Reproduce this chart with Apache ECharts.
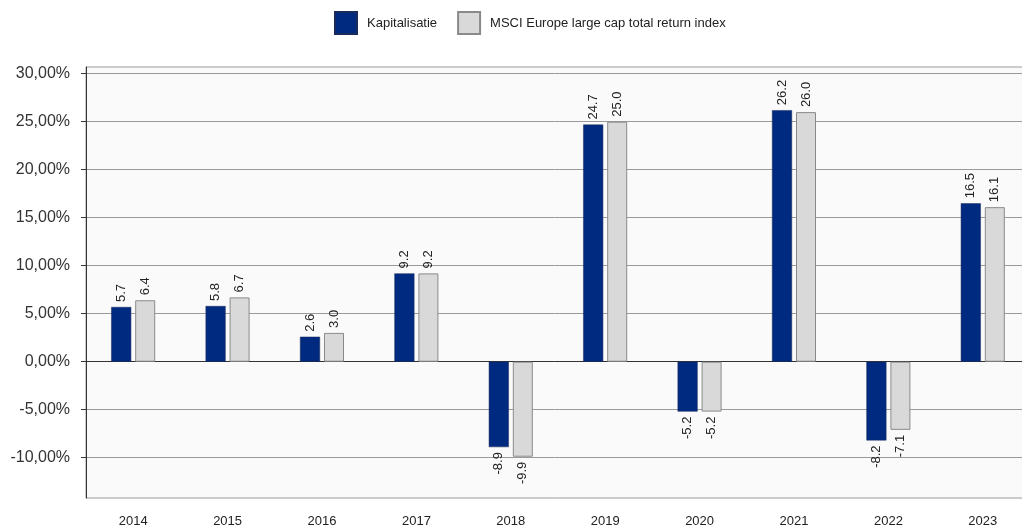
<!DOCTYPE html>
<html>
<head>
<meta charset="utf-8">
<script src="https://cdn.jsdelivr.net/npm/echarts@6/dist/echarts.min.js"></script>
<style>
  html, body { margin: 0; padding: 0; background: #ffffff; }
  #chart { width: 1022px; height: 528px; }
</style>
</head>
<body>
<div id="chart"></div>
<script>
// Annual returns (%) per year
const years = ['2014', '2015', '2016', '2017', '2018', '2019', '2020', '2021', '2022', '2023'];
const kapitalisatie = [5.7, 5.8, 2.6, 9.2, -8.9, 24.7, -5.2, 26.2, -8.2, 16.5];
const msciEurope = [6.4, 6.7, 3.0, 9.2, -9.9, 25.0, -5.2, 26.0, -7.1, 16.1];
const yTicks = [-10, -5, 0, 5, 10, 15, 20, 25, 30];

const FONT = '"Liberation Sans", Arial, sans-serif';

// Rotated value labels: above positive bars, below negative ones
function withLabels(values) {
  return values.map(v => ({
    value: v,
    label: v >= 0
      ? { position: 'top', align: 'left', verticalAlign: 'middle' }
      : { position: 'bottom', align: 'right', verticalAlign: 'middle' }
  }));
}

const labelStyle = {
  show: true,
  rotate: 90,
  distance: 5,
  fontFamily: FONT,
  fontSize: 13,
  color: '#222',
  formatter: p => p.value.toFixed(1)
};

const chart = echarts.init(document.getElementById('chart'), null, { renderer: 'canvas' });
chart.setOption({
  animation: false,
  backgroundColor: '#ffffff',
  legend: {
    top: 11,
    left: 334,
    padding: 0,
    itemWidth: 22,
    itemHeight: 22,
    itemGap: 20,
    icon: 'rect',
    textStyle: { fontFamily: FONT, fontSize: 13, color: '#222', padding: [0, 0, 0, 5] },
    data: ['Kapitalisatie', 'MSCI Europe large cap total return index']
  },
  grid: {
    left: 86,
    top: 67,
    width: 944,
    height: 431,
    outerBoundsMode: 'none',
    show: true,
    backgroundColor: '#fafafa',
    borderColor: '#9a9a9a',
    borderWidth: 1
  },
  xAxis: {
    type: 'category',
    data: years,
    axisLine: { lineStyle: { color: '#333', width: 1 } },
    axisTick: { alignWithLabel: true, length: 5, lineStyle: { color: '#333' } },
    axisLabel: { fontFamily: FONT, fontSize: 13, color: '#222', margin: 17 }
  },
  yAxis: {
    type: 'value',
    min: -14.2,
    max: 30.7,
    axisLine: { show: true, lineStyle: { color: '#333', width: 1 } },
    axisTick: { show: true, length: 5, customValues: yTicks, lineStyle: { color: '#333' } },
    axisLabel: {
      customValues: yTicks,
      fontFamily: FONT,
      fontSize: 16,
      color: '#333',
      margin: 16,
      formatter: v => v.toFixed(2).replace('.', ',') + '%'
    },
    splitLine: { show: true, lineStyle: { color: '#9a9a9a', width: 1 } }
  },
  series: [
    {
      name: 'Kapitalisatie',
      type: 'bar',
      barWidth: 20,
      barGap: '20%',
      itemStyle: { color: '#002a7f', borderColor: '#1a2a5a', borderWidth: 0.5 },
      label: labelStyle,
      data: withLabels(kapitalisatie)
    },
    {
      name: 'MSCI Europe large cap total return index',
      type: 'bar',
      barWidth: 20,
      itemStyle: { color: '#d9d9d9', borderColor: '#8a8a8a', borderWidth: 1 },
      label: labelStyle,
      data: withLabels(msciEurope)
    }
  ]
});
</script>
</body>
</html>
